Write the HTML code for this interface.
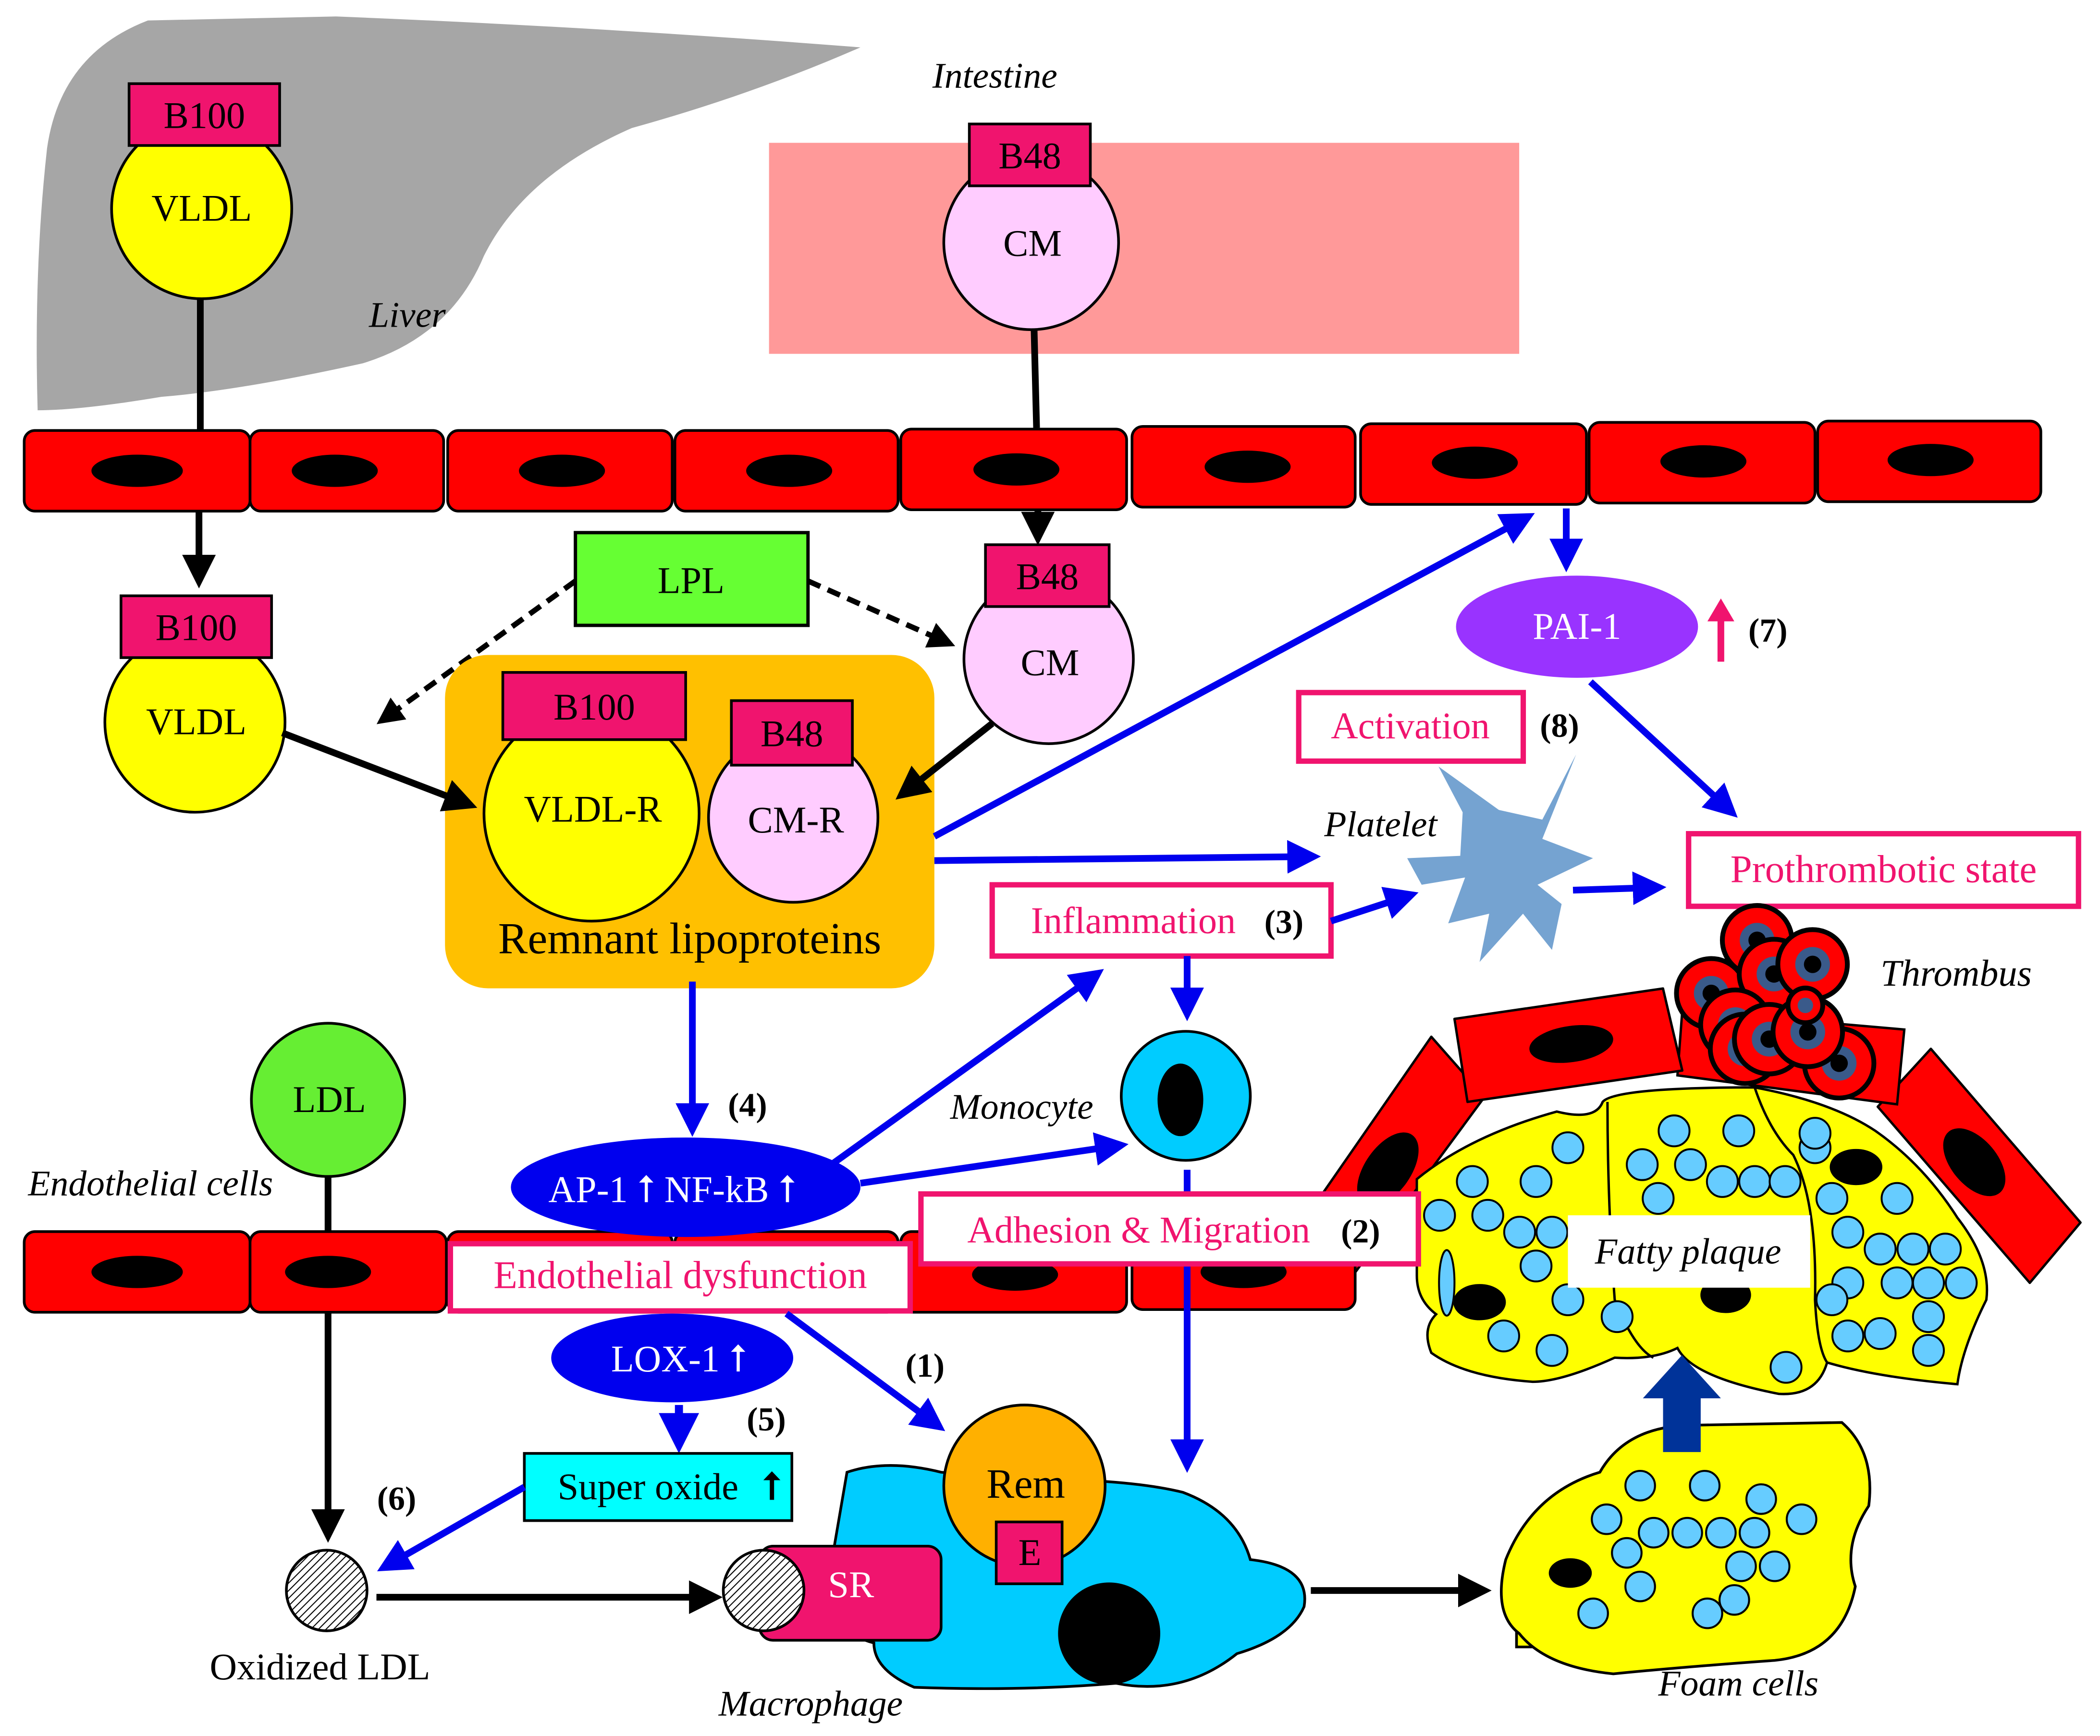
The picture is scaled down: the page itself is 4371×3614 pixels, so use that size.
<!DOCTYPE html>
<html><head><meta charset="utf-8"><style>html,body{margin:0;padding:0;background:#fff}svg{display:block}</style></head>
<body>
<svg width="4371" height="3614" viewBox="0 0 1562 1291" xmlns="http://www.w3.org/2000/svg" font-family="Liberation Serif, serif">
<defs>
<marker id="ak" markerWidth="5" markerHeight="5" refX="3.5" refY="2.5" orient="auto" markerUnits="strokeWidth"><path d="M0,0 L5,2.5 L0,5 Z" fill="#000"/></marker>
<marker id="ab" markerWidth="5" markerHeight="5" refX="3.5" refY="2.5" orient="auto" markerUnits="strokeWidth"><path d="M0,0 L5,2.5 L0,5 Z" fill="#0000ee"/></marker>
<pattern id="hatch" width="4" height="4" patternUnits="userSpaceOnUse" patternTransform="rotate(45)"><rect width="4" height="4" fill="#fff"/><line x1="0" y1="0" x2="0" y2="4" stroke="#000" stroke-width="1.5"/></pattern>
</defs>
<path d="M28,305 Q25,200 35,110 Q45,40 110,15 L250,12 Q450,20 640,35 Q560,70 470,95 Q390,130 360,190 Q335,250 270,270 Q180,290 120,295 Q60,305 28,305 Z" fill="#a6a6a6"/>
<text x="303" y="243" font-size="27" font-style="italic" text-anchor="middle">Liver</text>
<text x="740" y="65" font-size="27" font-style="italic" text-anchor="middle">Intestine</text>
<rect x="572" y="106" width="558" height="157" fill="#ff9999"/>
<line x1="149" y1="220" x2="149" y2="322" stroke="#000" stroke-width="5"/>
<circle cx="150" cy="155" r="67" fill="#ffff00" stroke="#000" stroke-width="2"/>
<rect x="96" y="62" width="112" height="46" fill="#f0146e" stroke="#000" stroke-width="2"/>
<text x="152" y="95" font-size="28" text-anchor="middle">B100</text>
<text x="150" y="164" font-size="28" text-anchor="middle">VLDL</text>
<line x1="769" y1="238" x2="771" y2="318" stroke="#000" stroke-width="5"/>
<circle cx="767" cy="180" r="65" fill="#ffccff" stroke="#000" stroke-width="2"/>
<rect x="721" y="92" width="90" height="46" fill="#f0146e" stroke="#000" stroke-width="2"/>
<text x="766" y="125" font-size="28" text-anchor="middle">B48</text>
<text x="768" y="190" font-size="28" text-anchor="middle">CM</text>
<g stroke="#000" stroke-width="2" fill="#ff0000">
<rect x="18" y="320" width="168" height="60" rx="8"/><rect x="186" y="320" width="144" height="60" rx="8"/>
<rect x="333" y="320" width="167" height="60" rx="8"/><rect x="502" y="320" width="166" height="60" rx="8"/>
<rect x="670" y="319" width="168" height="60" rx="8"/><rect x="842" y="317" width="166" height="60" rx="8"/>
<rect x="1012" y="315" width="168" height="60" rx="8"/><rect x="1182" y="314" width="168" height="60" rx="8"/>
<rect x="1352" y="313" width="166" height="60" rx="8"/>
</g>
<g fill="#000">
<ellipse cx="102" cy="350" rx="34" ry="12"/><ellipse cx="249" cy="350" rx="32" ry="12"/>
<ellipse cx="418" cy="350" rx="32" ry="12"/><ellipse cx="587" cy="350" rx="32" ry="12"/>
<ellipse cx="756" cy="349" rx="32" ry="12"/><ellipse cx="928" cy="347" rx="32" ry="12"/>
<ellipse cx="1097" cy="344" rx="32" ry="12"/><ellipse cx="1267" cy="343" rx="32" ry="12"/>
<ellipse cx="1436" cy="342" rx="32" ry="12"/>
</g>
<line x1="148" y1="380" x2="148" y2="430" stroke="#000" stroke-width="5" marker-end="url(#ak)"/>
<line x1="772" y1="380" x2="772" y2="398" stroke="#000" stroke-width="5" marker-end="url(#ak)"/>
<rect x="428" y="396" width="173" height="69" fill="#66ff33" stroke="#000" stroke-width="2.5"/>
<text x="514" y="441" font-size="28" text-anchor="middle">LPL</text>
<line x1="428" y1="432" x2="285" y2="535" stroke="#000" stroke-width="4" stroke-dasharray="10,6" marker-end="url(#ak)"/>
<line x1="601" y1="432" x2="705" y2="478" stroke="#000" stroke-width="4" stroke-dasharray="10,6" marker-end="url(#ak)"/>
<circle cx="145" cy="537" r="67" fill="#ffff00" stroke="#000" stroke-width="2"/>
<rect x="90" y="443" width="112" height="46" fill="#f0146e" stroke="#000" stroke-width="2"/>
<text x="146" y="476" font-size="28" text-anchor="middle">B100</text>
<text x="146" y="546" font-size="28" text-anchor="middle">VLDL</text>
<circle cx="780" cy="490" r="63" fill="#ffccff" stroke="#000" stroke-width="2"/>
<rect x="733" y="405" width="92" height="46" fill="#f0146e" stroke="#000" stroke-width="2"/>
<text x="779" y="438" font-size="28" text-anchor="middle">B48</text>
<text x="781" y="502" font-size="28" text-anchor="middle">CM</text>
<rect x="331" y="487" width="364" height="248" rx="32" fill="#ffc000"/>
<circle cx="440" cy="605" r="80" fill="#ffff00" stroke="#000" stroke-width="2"/>
<rect x="374" y="500" width="136" height="50" fill="#f0146e" stroke="#000" stroke-width="2"/>
<text x="442" y="535" font-size="28" text-anchor="middle">B100</text>
<text x="441" y="611" font-size="28" text-anchor="middle">VLDL-R</text>
<circle cx="590" cy="608" r="63" fill="#ffccff" stroke="#000" stroke-width="2"/>
<rect x="544" y="521" width="90" height="48" fill="#f0146e" stroke="#000" stroke-width="2"/>
<text x="589" y="555" font-size="28" text-anchor="middle">B48</text>
<text x="592" y="619" font-size="28" text-anchor="middle">CM-R</text>
<text x="513" y="709" font-size="33" text-anchor="middle">Remnant lipoproteins</text>
<line x1="210" y1="545" x2="348" y2="598" stroke="#000" stroke-width="5" marker-end="url(#ak)"/>
<line x1="738" y1="538" x2="672" y2="590" stroke="#000" stroke-width="5" marker-end="url(#ak)"/>
<line x1="695" y1="622" x2="1135" y2="385" stroke="#0000ee" stroke-width="5" marker-end="url(#ab)"/>
<line x1="695" y1="640" x2="975" y2="637" stroke="#0000ee" stroke-width="5" marker-end="url(#ab)"/>
<line x1="1165" y1="378" x2="1165" y2="418" stroke="#0000ee" stroke-width="5" marker-end="url(#ab)"/>
<ellipse cx="1173" cy="466" rx="90" ry="38" fill="#9933ff"/>
<text x="1173" y="475" font-size="28" fill="#fff" text-anchor="middle">PAI-1</text>
<line x1="1280" y1="492" x2="1280" y2="458" stroke="#f0146e" stroke-width="5"/>
<path d="M1270,462 L1280,445 L1290,462 Z" fill="#f0146e"/>
<text x="1315" y="477" font-size="25" font-weight="bold" text-anchor="middle">(7)</text>
<line x1="1183" y1="507" x2="1287" y2="603" stroke="#0000ee" stroke-width="5" marker-end="url(#ab)"/>
<rect x="966" y="515" width="167" height="51" fill="#fff" stroke="#f0146e" stroke-width="4"/>
<text x="1049" y="549" font-size="28" fill="#f0146e" text-anchor="middle">Activation</text>
<text x="1160" y="548" font-size="25" font-weight="bold" text-anchor="middle">(8)</text>
<text x="1027" y="622" font-size="27" font-style="italic" text-anchor="middle">Platelet</text>
<rect x="1256" y="620" width="290" height="54" fill="#fff" stroke="#f0146e" stroke-width="4"/>
<text x="1401" y="656" font-size="29" fill="#f0146e" text-anchor="middle">Prothrombotic state</text>
<rect x="738" y="658" width="252" height="53" fill="#fff" stroke="#f0146e" stroke-width="4"/>
<text x="843" y="694" font-size="28" fill="#f0146e" text-anchor="middle">Inflammation</text>
<text x="955" y="694" font-size="25" font-weight="bold" text-anchor="middle">(3)</text>
<line x1="990" y1="685" x2="1048" y2="666" stroke="#0000ee" stroke-width="5" marker-end="url(#ab)"/>
<line x1="883" y1="711" x2="883" y2="752" stroke="#0000ee" stroke-width="5" marker-end="url(#ab)"/>
<g transform="translate(1000,500) scale(0.359)" stroke="#000" stroke-width="5">
<path d="M180,755 L290,880 L10,1260 L-80,1130 Z" fill="#ff0000" stroke-linejoin="round"/>
<ellipse cx="90" cy="1030" rx="45" ry="85" transform="rotate(35 90 1030)" fill="#000"/>
<path d="M1215,780 L1525,1140 L1420,1265 L1105,900 Z" fill="#ff0000" stroke-linejoin="round"/>
<ellipse cx="1305" cy="1015" rx="45" ry="80" transform="rotate(-40 1305 1015)" fill="#000"/>
<path d="M700,700 L1160,740 L1145,895 L690,835 Z" fill="#ff0000"/>
<path d="M228,718 L660,655 L700,825 L255,890 Z" fill="#ff0000" stroke-linejoin="round"/>
<ellipse cx="470" cy="770" rx="85" ry="35" transform="rotate(-8 470 770)" fill="#000"/>
<path d="M150,1050 Q260,960 440,910 Q520,930 535,890 Q560,860 850,860 Q1010,890 1100,950 Q1200,1020 1270,1130 Q1340,1220 1330,1300 Q1280,1400 1270,1475 Q1100,1460 1000,1430 Q980,1500 900,1495 Q720,1460 690,1400 Q640,1425 560,1420 Q450,1470 390,1470 Q250,1460 180,1410 Q160,1360 190,1330 Q150,1300 150,1250 Z" fill="#ffff00"/>
<path d="M545,890 Q545,1100 560,1300 Q600,1400 640,1420 M850,860 Q880,950 930,1000 Q980,1100 975,1300 Q980,1400 1000,1430" fill="none"/>
<g fill="#66ccff" stroke-width="4">
<circle cx="463" cy="985" r="32"/><circle cx="397" cy="1055" r="32"/><circle cx="265" cy="1055" r="32"/><circle cx="297" cy="1125" r="32"/><circle cx="197" cy="1125" r="32"/><circle cx="363" cy="1160" r="32"/><circle cx="430" cy="1160" r="32"/><circle cx="397" cy="1230" r="32"/><circle cx="463" cy="1300" r="32"/><circle cx="330" cy="1375" r="32"/><circle cx="430" cy="1405" r="32"/><circle cx="565" cy="1335" r="32"/><circle cx="683" cy="950" r="32"/><circle cx="817" cy="950" r="32"/><circle cx="617" cy="1020" r="32"/><circle cx="717" cy="1020" r="32"/><circle cx="783" cy="1055" r="32"/><circle cx="850" cy="1055" r="32"/><circle cx="913" cy="1055" r="32"/><circle cx="650" cy="1090" r="32"/><circle cx="975" cy="985" r="32"/><circle cx="975" cy="955" r="32"/><circle cx="1010" cy="1090" r="32"/><circle cx="1145" cy="1090" r="32"/><circle cx="1043" cy="1160" r="32"/><circle cx="1110" cy="1195" r="32"/><circle cx="1178" cy="1195" r="32"/><circle cx="1245" cy="1195" r="32"/><circle cx="1043" cy="1265" r="32"/><circle cx="1145" cy="1265" r="32"/><circle cx="1210" cy="1265" r="32"/><circle cx="1278" cy="1265" r="32"/><circle cx="1010" cy="1300" r="32"/><circle cx="1210" cy="1335" r="32"/><circle cx="1043" cy="1375" r="32"/><circle cx="1110" cy="1370" r="32"/><circle cx="1210" cy="1405" r="32"/><circle cx="915" cy="1440" r="32"/>
<ellipse cx="212" cy="1265" rx="16" ry="68"/>
</g>
<ellipse cx="280" cy="1305" rx="52" ry="35" fill="#000"/>
<ellipse cx="1060" cy="1025" rx="52" ry="35" fill="#000"/>
<ellipse cx="790" cy="1290" rx="50" ry="35" fill="#000"/>
<g stroke-width="10">
<g><circle cx="855" cy="555" r="72" fill="#ff0000"/><circle cx="855" cy="555" r="36" fill="#3a5a8a" stroke="none"/><circle cx="855" cy="555" r="18" fill="#000" stroke="none"/></g>
<g><circle cx="760" cy="665" r="72" fill="#ff0000"/><circle cx="760" cy="665" r="36" fill="#3a5a8a" stroke="none"/><circle cx="760" cy="665" r="18" fill="#000" stroke="none"/></g>
<g><circle cx="890" cy="625" r="72" fill="#ff0000"/><circle cx="890" cy="625" r="36" fill="#3a5a8a" stroke="none"/><circle cx="890" cy="625" r="18" fill="#000" stroke="none"/></g>
<g><circle cx="810" cy="730" r="72" fill="#ff0000"/><circle cx="810" cy="730" r="36" fill="#3a5a8a" stroke="none"/><circle cx="810" cy="730" r="18" fill="#000" stroke="none"/></g>
<g><circle cx="1025" cy="810" r="72" fill="#ff0000"/><circle cx="1025" cy="810" r="36" fill="#3a5a8a" stroke="none"/><circle cx="1025" cy="810" r="18" fill="#000" stroke="none"/></g>
<g><circle cx="830" cy="780" r="72" fill="#ff0000"/><circle cx="830" cy="780" r="36" fill="#3a5a8a" stroke="none"/><circle cx="830" cy="780" r="18" fill="#000" stroke="none"/></g>
<g><circle cx="880" cy="760" r="72" fill="#ff0000"/><circle cx="880" cy="760" r="36" fill="#3a5a8a" stroke="none"/><circle cx="880" cy="760" r="18" fill="#000" stroke="none"/></g>
<g><circle cx="970" cy="605" r="72" fill="#ff0000"/><circle cx="970" cy="605" r="36" fill="#3a5a8a" stroke="none"/><circle cx="970" cy="605" r="18" fill="#000" stroke="none"/></g>
<g><circle cx="960" cy="745" r="72" fill="#ff0000"/><circle cx="960" cy="745" r="36" fill="#3a5a8a" stroke="none"/><circle cx="960" cy="745" r="18" fill="#000" stroke="none"/></g>
<g><circle cx="955" cy="690" r="36" fill="#ff0000"/><circle cx="955" cy="690" r="16" fill="#3a5a8a" stroke="none"/></g>
</g>
<path d="M195,195 L245,290 L240,380 L130,385 L160,440 L250,425 L215,520 L300,500 L280,600 L370,500 L430,575 L450,480 L400,440 L515,385 L410,345 L480,170 L410,305 L320,285 Z" fill="#75a3d1" stroke="none"/>
<rect x="463" y="1125" width="502" height="150" fill="#fff" stroke="none"/>
<text x="712" y="1225" font-size="76" font-style="italic" text-anchor="middle" stroke="none">Fatty plaque</text>
</g>
<text x="1455" y="733" font-size="28" font-style="italic" text-anchor="middle">Thrombus</text>
<line x1="1170" y1="662" x2="1232" y2="660" stroke="#0000ee" stroke-width="5" marker-end="url(#ab)"/>
<circle cx="882" cy="815" r="48" fill="#00ccff" stroke="#000" stroke-width="2"/>
<ellipse cx="878" cy="818" rx="17" ry="27" fill="#000"/>
<text x="760" y="832" font-size="27" font-style="italic" text-anchor="middle">Monocyte</text>
<line x1="515" y1="730" x2="515" y2="838" stroke="#0000ee" stroke-width="5" marker-end="url(#ab)"/>
<text x="556" y="830" font-size="25" font-weight="bold" text-anchor="middle">(4)</text>
<line x1="244" y1="875" x2="244" y2="1140" stroke="#000" stroke-width="5" marker-end="url(#ak)"/>
<circle cx="244" cy="818" r="57" fill="#66ee33" stroke="#000" stroke-width="2"/>
<text x="245" y="827" font-size="28" text-anchor="middle">LDL</text>
<text x="112" y="889" font-size="27" font-style="italic" text-anchor="middle">Endothelial cells</text>
<g stroke="#000" stroke-width="2" fill="#ff0000">
<rect x="18" y="916" width="168" height="60" rx="8"/><rect x="186" y="916" width="146" height="60" rx="8"/>
<rect x="333" y="916" width="167" height="60" rx="8"/><rect x="502" y="916" width="166" height="60" rx="8"/>
<rect x="670" y="916" width="168" height="60" rx="8"/><rect x="842" y="914" width="166" height="60" rx="8"/>
</g>
<g fill="#000"><ellipse cx="102" cy="946" rx="34" ry="12"/><ellipse cx="244" cy="946" rx="32" ry="12"/><ellipse cx="755" cy="948" rx="32" ry="12"/><ellipse cx="925" cy="946" rx="32" ry="12"/></g>
<ellipse cx="510" cy="883" rx="130" ry="37" fill="#0000ee"/>
<text x="500" y="894" font-size="28" fill="#fff" text-anchor="middle">AP-1 ⭡ NF-kB ⭡</text>
<line x1="620" y1="865" x2="815" y2="725" stroke="#0000ee" stroke-width="5" marker-end="url(#ab)"/>
<line x1="640" y1="880" x2="832" y2="852" stroke="#0000ee" stroke-width="5" marker-end="url(#ab)"/>
<line x1="883" y1="870" x2="883" y2="1088" stroke="#0000ee" stroke-width="5" marker-end="url(#ab)"/>
<rect x="685" y="888" width="370" height="52" fill="#fff" stroke="#f0146e" stroke-width="4"/>
<text x="847" y="924" font-size="28" fill="#f0146e" text-anchor="middle">Adhesion &amp; Migration</text>
<text x="1012" y="924" font-size="25" font-weight="bold" text-anchor="middle">(2)</text>
<rect x="335" y="925" width="342" height="50" fill="#fff" stroke="#f0146e" stroke-width="4"/>
<text x="506" y="958" font-size="29" fill="#f0146e" text-anchor="middle">Endothelial dysfunction</text>
<ellipse cx="500" cy="1010" rx="90" ry="33" fill="#0000ee"/>
<text x="505" y="1020" font-size="28" fill="#fff" text-anchor="middle">LOX-1 ⭡</text>
<line x1="585" y1="977" x2="697" y2="1060" stroke="#0000ee" stroke-width="5" marker-end="url(#ab)"/>
<text x="688" y="1024" font-size="25" font-weight="bold" text-anchor="middle">(1)</text>
<line x1="505" y1="1045" x2="505" y2="1072" stroke="#0000ee" stroke-width="6" marker-end="url(#ab)"/>
<text x="570" y="1064" font-size="25" font-weight="bold" text-anchor="middle">(5)</text>
<rect x="390" y="1081" width="199" height="50" fill="#00ffff" stroke="#000" stroke-width="2"/>
<text x="482" y="1115" font-size="28" text-anchor="middle">Super oxide</text>
<text x="574" y="1115" font-size="28" font-weight="bold" text-anchor="middle">⭡</text>
<line x1="390" y1="1106" x2="287" y2="1165" stroke="#0000ee" stroke-width="5" marker-end="url(#ab)"/>
<text x="295" y="1123" font-size="25" font-weight="bold" text-anchor="middle">(6)</text>
<circle cx="243" cy="1183" r="30" fill="url(#hatch)" stroke="#000" stroke-width="2"/>
<text x="238" y="1249" font-size="28" text-anchor="middle">Oxidized LDL</text>
<line x1="280" y1="1188" x2="530" y2="1188" stroke="#000" stroke-width="5" marker-end="url(#ak)"/>
<path d="M630,1095 Q660,1085 700,1095 L760,1100 Q840,1100 880,1110 Q920,1125 930,1160 Q975,1165 970,1195 Q960,1218 920,1230 Q880,1262 830,1252 Q760,1258 680,1255 Q650,1242 650,1222 Q610,1212 618,1165 Z" fill="#00ccff" stroke="#000" stroke-width="2"/>
<rect x="565" y="1150" width="135" height="70" rx="10" fill="#f0146e" stroke="#000" stroke-width="2"/>
<text x="633" y="1188" font-size="28" fill="#fff" text-anchor="middle">SR</text>
<circle cx="568" cy="1183" r="30" fill="url(#hatch)" stroke="#000" stroke-width="2"/>
<circle cx="762" cy="1105" r="60" fill="#ffb000" stroke="#000" stroke-width="2"/>
<text x="763" y="1114" font-size="31" text-anchor="middle">Rem</text>
<rect x="741" y="1132" width="49" height="46" fill="#f0146e" stroke="#000" stroke-width="2"/>
<text x="766" y="1164" font-size="28" text-anchor="middle">E</text>
<circle cx="825" cy="1215" r="38" fill="#000"/>
<text x="603" y="1276" font-size="27" font-style="italic" text-anchor="middle">Macrophage</text>
<line x1="975" y1="1183" x2="1102" y2="1183" stroke="#000" stroke-width="5" marker-end="url(#ak)"/>
<path d="M1128,1190 L1128,1225 L1145,1225 L1145,1210 Z" fill="#ffff00" stroke="#000" stroke-width="2"/>
<path d="M1120,1160 Q1140,1110 1190,1095 Q1210,1060 1260,1060 L1370,1058 Q1395,1080 1390,1120 Q1370,1150 1380,1180 Q1370,1230 1320,1235 Q1250,1240 1200,1245 Q1150,1240 1130,1215 Q1110,1200 1120,1160 Z" fill="#ffff00" stroke="#000" stroke-width="2"/>
<ellipse cx="1168" cy="1170" rx="16" ry="11" fill="#000"/>
<g fill="#66ccff" stroke="#000" stroke-width="1.5">
<circle cx="1220" cy="1105" r="11"/><circle cx="1268" cy="1105" r="11"/><circle cx="1310" cy="1115" r="11"/><circle cx="1195" cy="1130" r="11"/><circle cx="1230" cy="1140" r="11"/><circle cx="1255" cy="1140" r="11"/><circle cx="1280" cy="1140" r="11"/><circle cx="1305" cy="1140" r="11"/><circle cx="1340" cy="1130" r="11"/><circle cx="1210" cy="1155" r="11"/><circle cx="1295" cy="1165" r="11"/><circle cx="1320" cy="1165" r="11"/><circle cx="1220" cy="1180" r="11"/><circle cx="1290" cy="1190" r="11"/><circle cx="1185" cy="1200" r="11"/><circle cx="1270" cy="1200" r="11"/>
</g>
<text x="1293" y="1261" font-size="27" font-style="italic" text-anchor="middle">Foam cells</text>
<path d="M1237,1080 L1237,1040 L1222,1040 L1251,1008 L1280,1040 L1265,1040 L1265,1080 Z" fill="#003399"/>
</svg>
</body></html>
